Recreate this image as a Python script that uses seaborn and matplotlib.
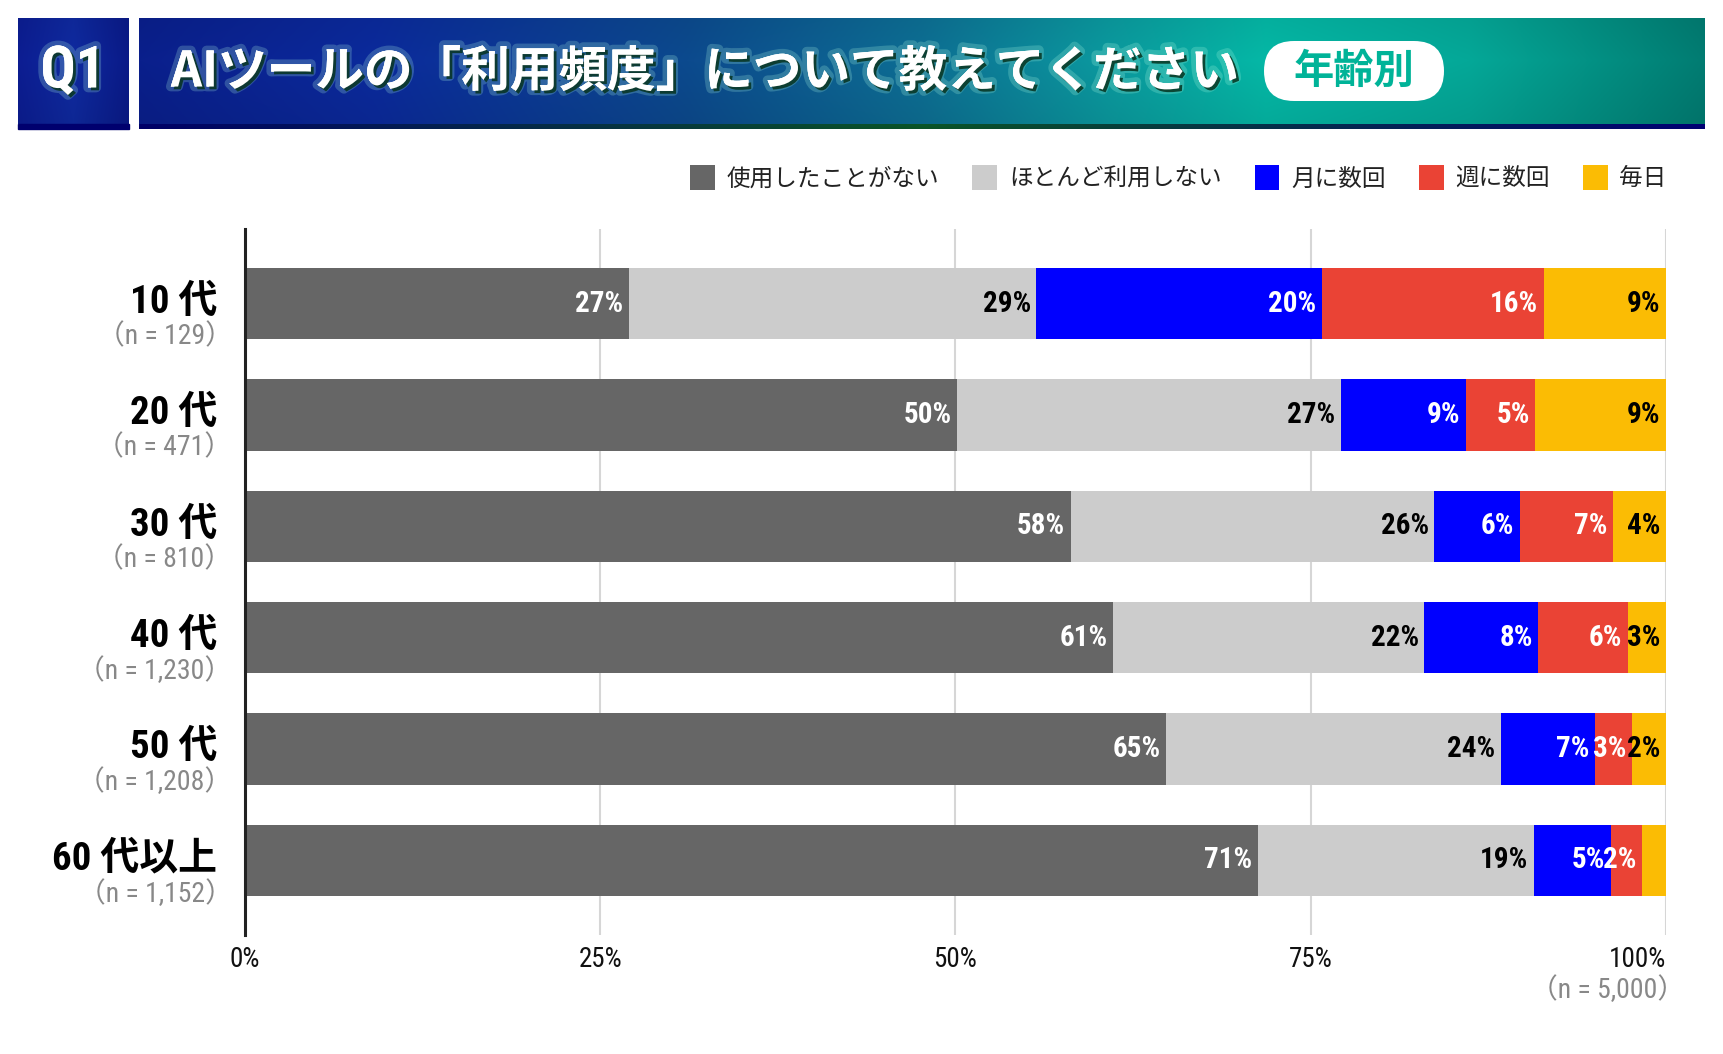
import numpy as np
import pandas as pd
import matplotlib
matplotlib.use("Agg")
import matplotlib.pyplot as plt
import matplotlib.patheffects as pe
from matplotlib.patches import Patch, FancyBboxPatch, Rectangle
import seaborn as sns

# ---- data ----
ages = ["10 代", "20 代", "30 代", "40 代", "50 代", "60 代以上"]
n_labels = ["（n = 129）", "（n = 471）", "（n = 810）", "（n = 1,230）", "（n = 1,208）", "（n = 1,152）"]
categories = ["使用したことがない", "ほとんど利用しない", "月に数回", "週に数回", "毎日"]
never = [27.0, 50.1, 58.1, 61.1, 64.8, 71.3]
rarely = [28.7, 27.0, 25.6, 21.9, 23.6, 19.4]
monthly = [20.1, 8.8, 6.0, 8.0, 6.6, 5.4]
weekly = [15.6, 4.9, 6.6, 6.3, 2.6, 2.2]
daily = [8.6, 9.2, 3.7, 2.7, 2.4, 1.7]
x_ticks = [0, 25, 50, 75, 100]
total_label = "（n = 5,000）"
title = "AIツールの「利用頻度」について教えてください"
tag = "年齢別"

colors = ["#666666", "#cccccc", "#0000ff", "#ea4335", "#fbbc04"]
text_colors = ["white", "black", "white", "white", "black"]

NARROW = ["Roboto Condensed", "IBM Plex Sans Condensed", "Open Sans Condensed",
          "Noto Sans CJK JP", "DejaVu Sans"]
CJK = ["Noto Sans CJK JP", "DejaVu Sans"]

sns.set_style("white")
plt.rcParams["font.family"] = CJK

W, H = 1724, 1054
fig = plt.figure(figsize=(W / 100, H / 100), dpi=100)


def hexrgb(h):
    h = h.lstrip("#")
    return np.array([int(h[i:i + 2], 16) / 255 for i in (0, 2, 4)])


def gradient(stops, width, height):
    pos = np.array([s[0] for s in stops])
    cols = np.array([hexrgb(s[1]) for s in stops])
    xs = np.linspace(0, 1, width)
    row = np.stack([np.interp(xs, pos, cols[:, k]) for k in range(3)], axis=1)
    img = np.repeat(row[None, :, :], height, axis=0)
    yy = np.linspace(0, 1, height)[:, None, None]
    img = img * (1.0 - 0.12 * np.abs(yy - 0.4))
    return np.clip(img, 0, 1)


# ---- header ----
hx = fig.add_axes([0, 1 - 140 / H, 1, 140 / H])
hx.set_axis_off()

q1 = gradient([(0, "#0c1d92"), (0.5, "#0f2aa0"), (1, "#0a1a88")], 111, 106)
hx.imshow(q1, extent=(18, 129, 124, 18), origin="upper", aspect="auto", zorder=1)
hx.add_patch(Rectangle((18, 124), 111, 5, color="#00006e", zorder=2))

banner = gradient([(0.0, "#0a1f8c"), (0.15, "#0b2a9c"), (0.35, "#0c4a8e"),
                   (0.5, "#0d6f94"), (0.62, "#0b9a9f"), (0.72, "#05b8a6"),
                   (0.85, "#05a898"), (1.0, "#017c72")], 800, 106)
hx.imshow(banner, extent=(139, 1705, 124, 18), origin="upper", aspect="auto", zorder=1)
stripe = gradient([(0, "#00006e"), (0.5, "#0b5a2a"), (1, "#00007a")], 800, 2)
hx.imshow(stripe, extent=(139, 1705, 129, 124), origin="upper", aspect="auto", zorder=2)

glow = [pe.withStroke(linewidth=7, foreground=(0.7, 1.0, 0.9, 0.22)),
        pe.SimplePatchShadow(offset=(2, -2), shadow_rgbFace="#06331f", alpha=0.85),
        pe.Normal()]
hx.text(73, 72, "Q1", color="white", fontsize=42, fontweight="bold", family=NARROW,
        ha="center", va="center", zorder=5, path_effects=glow)
hx.text(171, 72, title, color="white", fontsize=35, fontweight="bold", family=CJK,
        ha="left", va="center", zorder=5, path_effects=glow)
hx.add_patch(FancyBboxPatch((1264, 41), 180, 60, boxstyle="round,pad=0,rounding_size=30",
                            facecolor="white", edgecolor="none", zorder=4))
hx.text(1354, 71, tag, color="#00b398", fontsize=29, fontweight="bold", family=CJK,
        ha="center", va="center", zorder=5)
hx.set_xlim(0, W)
hx.set_ylim(140, 0)

# ---- stacked bars ----
ax = fig.add_axes([245 / W, 119 / H, 1421 / W, 706 / H])

series = [never, rarely, monthly, weekly, daily]
rows = []
for cat, vals in zip(categories, series):
    for age, v in zip(ages, vals):
        rows.append({"age": age, "category": cat, "value": v})
df = pd.DataFrame(rows)
df["category"] = pd.Categorical(df["category"], categories, ordered=True)
df = df.sort_values(["age", "category"])
df["cum"] = df.groupby("age")["value"].cumsum()

# draw cumulative layers, longest first so shorter ones sit on top
for cat, col in reversed(list(zip(categories, colors))):
    sub = df[df["category"] == cat]
    sns.barplot(data=sub, x="cum", y="age", order=ages, orient="h", color=col,
                saturation=1, width=0.64, errorbar=None, linewidth=0, ax=ax)

for cat, tcol in zip(categories, text_colors):
    sub = df[df["category"] == cat]
    for _, r in sub.iterrows():
        if r["value"] < 2:
            continue
        ax.annotate(f"{r['value']:.0f}%", xy=(r["cum"], ages.index(r["age"])),
                    xytext=(-4, 0), textcoords="offset points", ha="right", va="center",
                    color=tcol, fontsize=21, fontweight="bold", family=NARROW, zorder=5)

ax.set_xlim(0, 100)
ax.set_ylim(5.67, -0.67)
ax.set_xlabel("")
ax.set_ylabel("")
ax.set_xticks(x_ticks)
ax.set_xticklabels([f"{t}%" for t in x_ticks], family=NARROW, fontsize=19.5, color="#111111")
ax.get_xticklabels()[-1].set_ha("right")
ax.tick_params(axis="x", length=0, pad=8)
ax.tick_params(axis="y", length=0, labelleft=False)
ax.set_axisbelow(True)
ax.grid(axis="x", color="#d6d6d6", linewidth=1.5)
ax.grid(axis="y", visible=False)
for s in ["top", "right", "bottom"]:
    ax.spines[s].set_visible(False)
ax.spines["left"].set_color("#222222")
ax.spines["left"].set_linewidth(2.2)
ax.spines["left"].set_zorder(6)

for i, (a, nl) in enumerate(zip(ages, n_labels)):
    ax.annotate(a, xy=(0, i), xycoords=("axes fraction", "data"), xytext=(-20, 1),
                textcoords="offset points", ha="right", va="center",
                fontsize=28, fontweight="bold", family=NARROW, color="black")
    ax.annotate(nl, xy=(0, i), xycoords=("axes fraction", "data"), xytext=(-9, -24),
                textcoords="offset points", ha="right", va="center",
                fontsize=20, family=NARROW, color="#888888")

ax.annotate(total_label, xy=(1, 0), xycoords="axes fraction", xytext=(14, -40),
            textcoords="offset points", ha="right", va="center",
            fontsize=20, family=NARROW, color="#888888")

# ---- legend ----
handles = [Patch(facecolor=c, edgecolor="none") for c in colors]
fig.legend(handles, categories, loc="center right", bbox_to_anchor=(1688 / W, 1 - 178 / H),
           ncol=5, frameon=False, prop={"family": CJK, "size": 17},
           handlelength=1.05, handleheight=1.2, handletextpad=0.5, columnspacing=1.4,
           labelcolor="#222222")

fig.savefig("out.png", dpi=100)
